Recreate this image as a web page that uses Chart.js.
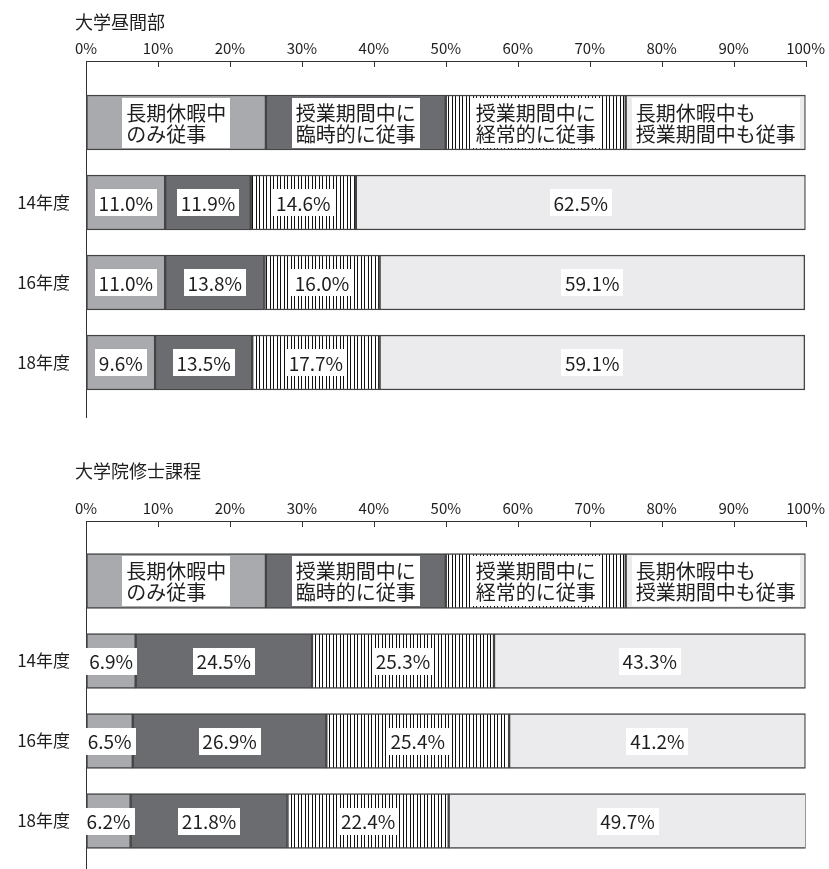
<!DOCTYPE html>
<html lang="ja">
<head>
<meta charset="utf-8">
<title>アルバイト従事状況</title>
<script src="https://cdn.jsdelivr.net/npm/chart.js@4.4.1/dist/chart.umd.min.js"></script>
<style>
  html, body { margin: 0; padding: 0; background: #fff; }
  #wrap { position: relative; width: 829px; height: 869px; }
  canvas { position: absolute; left: 0; }
</style>
</head>
<body>
<div id="wrap">
  <canvas id="dayChart" width="829" height="440" style="top:0"></canvas>
  <canvas id="masterChart" width="829" height="429" style="top:440px"></canvas>
</div>
<script>
var years = ['14年度', '16年度', '18年度'];
var kinds = [
    ['長期休暇中', 'のみ従事'],
    ['授業期間中に', '臨時的に従事'],
    ['授業期間中に', '経常的に従事'],
    ['長期休暇中も', '授業期間中も従事']
];
// the key row across the top of each panel: four equal quarters
var keyShare = [25, 25, 25, 25];
var pctTicks = [0, 10, 20, 30, 40, 50, 60, 70, 80, 90, 100];

// 大学昼間部
var day14 = [11.0, 11.9, 14.6, 62.5];
var day16 = [11.0, 13.8, 16.0, 59.1];
var day18 = [9.6, 13.5, 17.7, 59.1];

// 大学院修士課程
var master14 = [6.9, 24.5, 25.3, 43.3];
var master16 = [6.5, 26.9, 25.4, 41.2];
var master18 = [6.2, 21.8, 22.4, 49.7];

var FONT = '"Noto Sans CJK JP", "Noto Sans", sans-serif';
var INK = '#1e1e1e';

function stripes(ctx) {
    var c = document.createElement('canvas');
    c.width = 7;
    c.height = 4;
    var g = c.getContext('2d');
    g.fillStyle = '#fff';
    g.fillRect(0, 0, 7, 4);
    g.fillStyle = '#111';
    g.fillRect(0, 0, 1, 4);
    g.fillRect(4, 0, 1, 4);
    return ctx.createPattern(c, 'repeat');
}

// white boxes with the value (or the key text) centred on each segment
var boxLabels = {
    id: 'boxLabels',
    afterDatasetsDraw: function(chart) {
        var ctx = chart.ctx;
        ctx.save();
        chart.data.datasets.forEach(function(ds, di) {
            var meta = chart.getDatasetMeta(di);
            meta.data.forEach(function(bar, i) {
                var isKey = i === 0;
                var lines = isKey ? kinds[di] : [ds.data[i].x.toFixed(1) + '%'];
                ctx.font = (isKey ? '20px ' : '19px ') + FONT;
                var w = 0;
                lines.forEach(function(l) { w = Math.max(w, ctx.measureText(l).width); });
                var lh = 21;
                var bw = Math.round(w + 8);
                var bh = isKey ? lines.length * lh + 8 : 27;
                var cx = (bar.x + bar.base) / 2;
                var cy = bar.y;
                ctx.fillStyle = '#fff';
                ctx.fillRect(Math.round(cx - bw / 2), Math.round(cy - bh / 2), bw, bh);
                ctx.fillStyle = INK;
                ctx.textAlign = 'left';
                ctx.textBaseline = 'middle';
                lines.forEach(function(l, k) {
                    ctx.fillText(l, cx - w / 2, cy - (lines.length - 1) * lh / 2 + k * lh + 1);
                });
            });
        });
        ctx.restore();
    }
};

// title above the axis and the short ticks that hang below it
var panelDecor = {
    id: 'panelDecor',
    afterDraw: function(chart, args, opts) {
        var ctx = chart.ctx;
        var xs = chart.scales.x;
        var top = chart.chartArea.top;
        ctx.save();
        ctx.strokeStyle = '#333';
        ctx.lineWidth = 1;
        ctx.beginPath();
        xs.ticks.forEach(function(t) {
            var px = Math.round(xs.getPixelForValue(t.value)) + 0.5;
            ctx.moveTo(px, top);
            ctx.lineTo(px, top + 6);
        });
        ctx.stroke();
        ctx.fillStyle = INK;
        ctx.font = '18px ' + FONT;
        ctx.textAlign = 'left';
        ctx.textBaseline = 'middle';
        ctx.fillText(opts.text, 75, opts.y);
        ctx.restore();
    }
};

function makePanel(id, title, titleY, rows, axisTop, padBottom, yMin, yMax) {
    var ctx = document.getElementById(id).getContext('2d');
    var fills = ['#a9aaad', '#6b6c70', stripes(ctx), '#ebebed'];
    var datasets = kinds.map(function(k, di) {
        var pts = [{ x: keyShare[di], y: 0 }];
        rows.forEach(function(r, ri) { pts.push({ x: r[di], y: ri + 1 }); });
        return {
            label: k.join(''),
            data: pts,
            backgroundColor: fills[di],
            borderColor: '#444',
            borderWidth: 1.5,
            borderSkipped: false,
            barThickness: 55
        };
    });

    return new Chart(ctx, {
        type: 'bar',
        data: { datasets: datasets },
        options: {
            indexAxis: 'y',
            responsive: false,
            animation: false,
            layout: { padding: { top: 0, right: 22, bottom: padBottom, left: 0 } },
            scales: {
                x: {
                    type: 'linear',
                    position: 'top',
                    stacked: true,
                    min: 0,
                    max: 100,
                    afterBuildTicks: function(s) {
                        s.ticks = pctTicks.map(function(v) { return { value: v }; });
                    },
                    afterFit: function(s) { s.height = axisTop; },
                    ticks: {
                        padding: 4,
                        color: INK,
                        font: { family: FONT, size: 15 },
                        maxRotation: 0,
                        callback: function(v) { return v + '%'; }
                    },
                    grid: { display: true, drawOnChartArea: false, drawTicks: false },
                    border: { display: true, color: '#333', width: 1 }
                },
                y: {
                    type: 'linear',
                    stacked: true,
                    reverse: true,
                    offset: false,
                    min: yMin,
                    max: yMax,
                    afterBuildTicks: function(s) {
                        s.ticks = years.map(function(y, i) { return { value: i + 1 }; });
                    },
                    afterFit: function(s) {
                        s.width = 86;
                        s.paddingTop = 0;
                        s.paddingBottom = 0;
                    },
                    ticks: {
                        padding: 16,
                        color: INK,
                        font: { family: FONT, size: 17 },
                        callback: function(v) { return years[v - 1]; }
                    },
                    grid: { display: true, offset: false, drawOnChartArea: false, drawTicks: false },
                    border: { display: true, color: '#333', width: 1 }
                }
            },
            plugins: {
                legend: { display: false },
                tooltip: { enabled: false },
                panelDecor: { text: title, y: titleY }
            }
        },
        plugins: [boxLabels, panelDecor]
    });
}

// rows are 80px apart; the key row sits about 61px below the axis
makePanel('dayChart', '大学昼間部', 22, [day14, day16, day18], 61, 23, -61.5 / 80, (417 - 122.5) / 80);
makePanel('masterChart', '大学院修士課程', 31, [master14, master16, master18], 81, 0, -60 / 80, (429 - 141) / 80);
</script>
</body>
</html>
